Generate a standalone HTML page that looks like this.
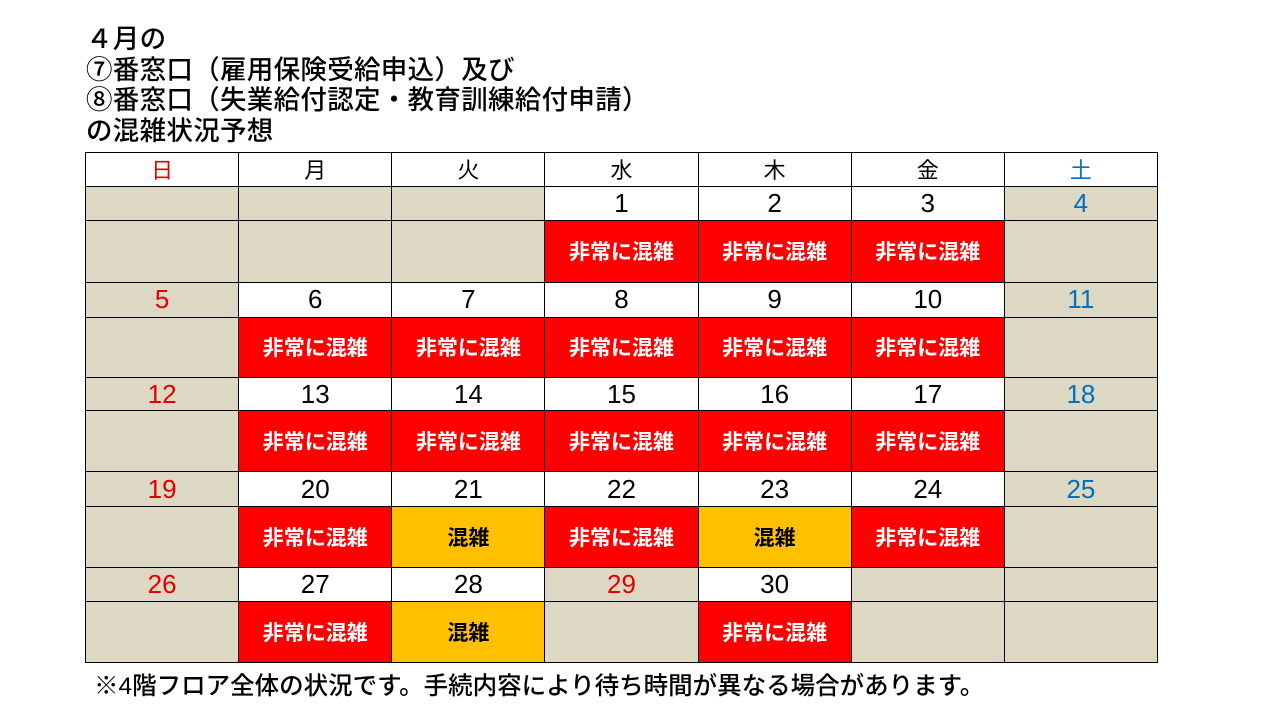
<!DOCTYPE html>
<html><head><meta charset="utf-8"><style>
body{margin:0;width:1280px;height:720px;background:#fff;position:relative;overflow:hidden;font-family:"Liberation Sans","Noto Sans CJK JP",sans-serif}
.t{position:absolute;left:86px;top:24px;font-size:26.5px;line-height:30.5px;color:#000;font-weight:500;letter-spacing:0.3px}
.g{position:absolute;left:85px;top:152px;width:1073px;height:511px;box-sizing:border-box;background:#000;padding:1px;display:grid;gap:1px;grid-template-columns:repeat(7,1fr);grid-template-rows:33fr 33fr 61fr 34fr 59fr 33fr 60fr 34fr 60fr 33fr 60fr}
.g div{background:#fff;display:flex;align-items:center;justify-content:center;font-size:26px;color:#000}
.g .h{font-size:22px}
.g .b{background:#ddd8c4}
.g .r{background:#f00;color:#fff;font-weight:bold;font-size:21px}
.g .o{background:#ffc000;color:#000;font-weight:bold;font-size:21px}
.red{color:#e00000!important}.blu{color:#0070c0!important}
.f{position:absolute;left:94px;top:667px;font-size:24.5px;color:#000;font-weight:500}
</style></head><body>
<div class="t">４月の<br>⑦番窓口（雇用保険受給申込）及び<br>⑧番窓口（失業給付認定・教育訓練給付申請）<br>の混雑状況予想</div>
<div class="g">
<div class="h red">日</div><div class="h">月</div><div class="h">火</div><div class="h">水</div><div class="h">木</div><div class="h">金</div><div class="h blu">土</div>
<div class="b"></div><div class="b"></div><div class="b"></div><div>1</div><div>2</div><div>3</div><div class="b blu">4</div>
<div class="b"></div><div class="b"></div><div class="b"></div><div class="r">非常に混雑</div><div class="r">非常に混雑</div><div class="r">非常に混雑</div><div class="b"></div>
<div class="b red">5</div><div>6</div><div>7</div><div>8</div><div>9</div><div>10</div><div class="b blu">11</div>
<div class="b"></div><div class="r">非常に混雑</div><div class="r">非常に混雑</div><div class="r">非常に混雑</div><div class="r">非常に混雑</div><div class="r">非常に混雑</div><div class="b"></div>
<div class="b red">12</div><div>13</div><div>14</div><div>15</div><div>16</div><div>17</div><div class="b blu">18</div>
<div class="b"></div><div class="r">非常に混雑</div><div class="r">非常に混雑</div><div class="r">非常に混雑</div><div class="r">非常に混雑</div><div class="r">非常に混雑</div><div class="b"></div>
<div class="b red">19</div><div>20</div><div>21</div><div>22</div><div>23</div><div>24</div><div class="b blu">25</div>
<div class="b"></div><div class="r">非常に混雑</div><div class="o">混雑</div><div class="r">非常に混雑</div><div class="o">混雑</div><div class="r">非常に混雑</div><div class="b"></div>
<div class="b red">26</div><div>27</div><div>28</div><div class="b red">29</div><div>30</div><div class="b"></div><div class="b"></div>
<div class="b"></div><div class="r">非常に混雑</div><div class="o">混雑</div><div class="b"></div><div class="r">非常に混雑</div><div class="b"></div><div class="b"></div>
</div>
<div class="f">※4階フロア全体の状況です。手続内容により待ち時間が異なる場合があります。</div>
</body></html>
